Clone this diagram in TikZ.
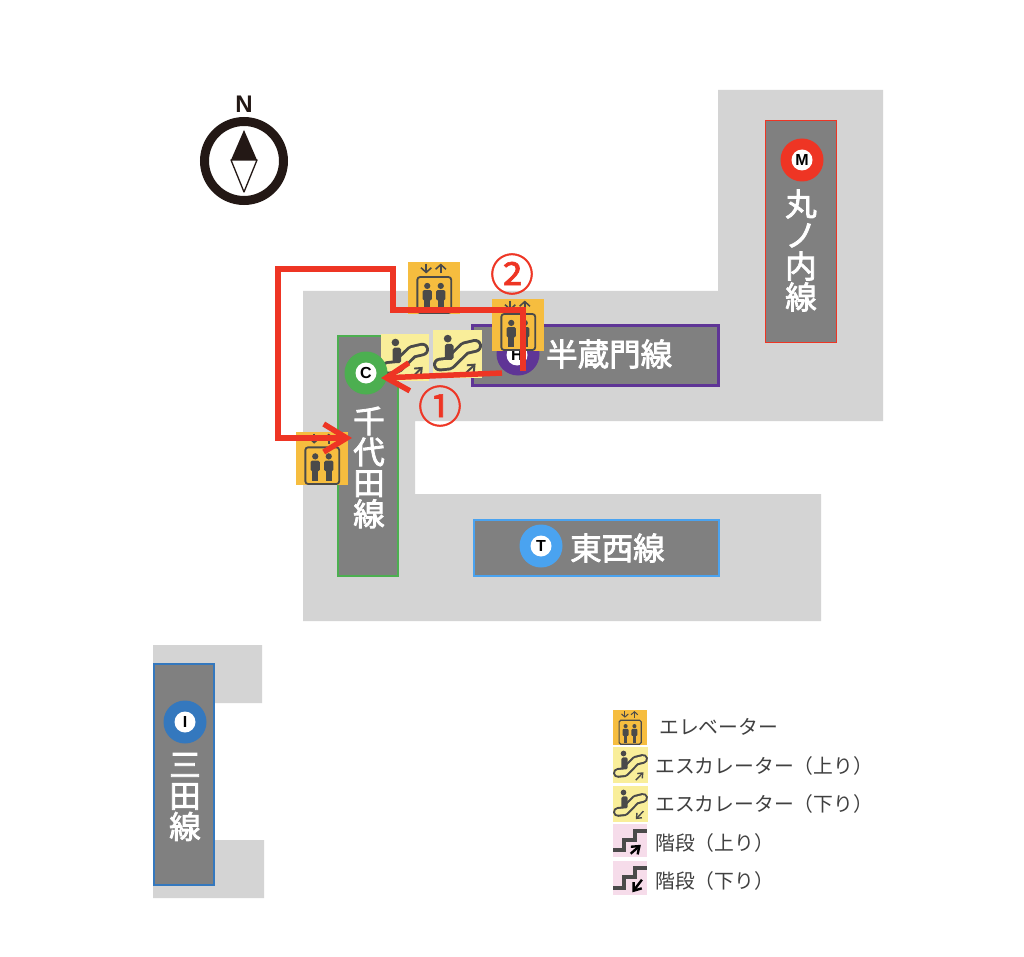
\documentclass[tikz,border=0pt]{standalone}
\usepackage{fontspec}
\usetikzlibrary{arrows.meta}
\setmainfont{Noto Sans CJK JP}
\newfontfamily\latinbold{Liberation Sans}[BoldFont={Liberation Sans Bold}]
\newfontfamily\stfont[FakeBold=2.5]{Noto Sans CJK JP}
\newfontfamily\numfont[FakeBold=1.3]{Noto Sans CJK JP}
\definecolor{floorgrey}{HTML}{D4D4D4}
\definecolor{platgrey}{HTML}{808080}
\definecolor{elevbg}{HTML}{F6BD3F}
\definecolor{escbg}{HTML}{F9EE9A}
\definecolor{stairbg}{HTML}{F6DCEA}
\definecolor{icondark}{HTML}{4A4A4A}
\definecolor{routered}{HTML}{EE3524}
\definecolor{chiyoda}{HTML}{4CAF50}
\definecolor{hanzomon}{HTML}{5F3596}
\definecolor{tozai}{HTML}{4AA3F0}
\definecolor{maru}{HTML}{EE3524}
\definecolor{mita}{HTML}{3478BE}
\definecolor{compassblack}{HTML}{231815}
\tikzset{
  floor/.style={fill=floorgrey,draw=none},
  platform/.style={fill=#1,draw=none,anchor=north west,inner sep=0pt,outer sep=0pt},
  platformface/.style={fill=platgrey,draw=none,inner sep=0pt,outer sep=0pt},
  linering/.style={circle,fill=#1,minimum size=43pt,inner sep=0pt},
  linehole/.style={circle,fill=white,minimum size=21pt,inner sep=0pt,text=black,font=\latinbold\bfseries\fontsize{16}{16}\selectfont},
  stname/.style={text=white,align=center,inner sep=0pt,font=\stfont\fontsize{31.5}{31}\selectfont},
  legendtext/.style={anchor=west,inner sep=0pt,text=black!75,font=\fontsize{19.8}{20}\selectfont},
  route/.style={draw=routered,line width=5.5pt,miter limit=10},
  routetip/.style={-{Straight Barb[length=23pt,width=28pt]}},
  numlabel/.style={text=routered,inner sep=0pt,font=\numfont\fontsize{44}{44}\selectfont},
}
% #1 x, #2 y, #3 width, #4 height
\newcommand{\elevicon}[4]{%
\begin{scope}[shift={(#1,#2)},x=#3pt,y=-#4pt]
\fill[elevbg] (0,0) rectangle (1,1);
\draw[icondark,line width=#3*0.035pt,rounded corners=#3*0.05pt] (.18,.29) rectangle (.83,.98);
\foreach \px in {.37,.63}{
  \fill[icondark] (\px,.46) circle[x radius=.06,y radius=.06];
  \fill[icondark,rounded corners=#3*0.03pt] (\px-.09,.54) rectangle (\px+.09,.74);
  \fill[icondark] (\px-.055,.7) rectangle (\px+.055,.93);
}
\draw[icondark,line width=#3*0.03pt,-{Straight Barb[length=#3*0.09pt,width=#3*0.2pt]}] (.35,.03) -- (.35,.22);
\draw[icondark,line width=#3*0.03pt,-{Straight Barb[length=#3*0.09pt,width=#3*0.2pt]}] (.63,.22) -- (.63,.03);
\end{scope}}
% #5 = 1 up, 0 down
\newcommand{\escicon}[5]{%
\begin{scope}[shift={(#1,#2)},x=#3pt,y=-#4pt]
\fill[escbg] (0,0) rectangle (1,1);
\draw[icondark,line width=#3*0.28pt,line cap=round,line join=round] (.14,.72) -- (.33,.7) -- (.65,.38) -- (.86,.33);
\draw[escbg,line width=#3*0.16pt,line cap=round,line join=round] (.14,.72) -- (.33,.7) -- (.65,.38) -- (.86,.33);
\fill[icondark] (.3,.18) circle[x radius=.08,y radius=.08];
\fill[icondark,rounded corners=#3*0.04pt] (.24,.29) rectangle (.42,.62);
\ifnum#5=1
\draw[icondark,line width=#3*0.04pt,-{Straight Barb[length=#3*0.12pt,width=#3*0.2pt]}] (.65,.92) -- (.87,.7);
\else
\draw[icondark,line width=#3*0.04pt,-{Straight Barb[length=#3*0.12pt,width=#3*0.2pt]}] (.87,.7) -- (.65,.92);
\fi
\end{scope}}
\newcommand{\stairicon}[5]{%
\begin{scope}[shift={(#1,#2)},x=#3pt,y=-#4pt]
\fill[stairbg] (0,0) rectangle (1,1);
\draw[icondark,line width=#3*0.12pt] (0,.8) -- (.33,.8) -- (.33,.48) -- (.65,.48) -- (.65,.2) -- (1,.2);
\ifnum#5=1
\draw[black,line width=#3*0.07pt,-{Straight Barb[length=#3*0.2pt,width=#3*0.3pt]}] (.52,.9) -- (.82,.63);
\else
\draw[black,line width=#3*0.07pt,-{Straight Barb[length=#3*0.2pt,width=#3*0.3pt]}] (.85,.55) -- (.57,.92);
\fi
\end{scope}}
\begin{document}
\begin{tikzpicture}[x=1pt,y=-1pt]
\useasboundingbox (0,0) rectangle (1024,957);
\fill[white] (0,0) rectangle (1024,957);
% floors
\fill[floor] (303,291) -- (718,291) -- (718,90) -- (883,90) -- (883,421) -- (415,421) -- (415,494) -- (821,494) -- (821,621) -- (303,621) -- cycle;
\fill[floor] (153,645) -- (262,645) -- (262,703) -- (200,703) -- (200,840) -- (264,840) -- (264,898) -- (153,898) -- cycle;
% platforms
\node[platform=maru,minimum width=72pt,minimum height=223pt] (marubox) at (765,120) {};
\node[platformface,minimum width=69.4pt,minimum height=220.4pt] (maruface) at (marubox.center) {};
\node[platform=chiyoda,minimum width=62pt,minimum height=242pt] (chibox) at (337,335) {};
\node[platformface,minimum width=58.6pt,minimum height=238.6pt] (chiface) at (chibox.center) {};
\node[platform=tozai,minimum width=247pt,minimum height=58pt] (tozaibox) at (473,519) {};
\node[platformface,minimum width=243.6pt,minimum height=54.6pt] (tozaiface) at (tozaibox.center) {};
\node[platform=mita,minimum width=62pt,minimum height=223pt] (mitabox) at (153,663) {};
\node[platformface,minimum width=58.6pt,minimum height=219.6pt] (mitaface) at (mitabox.center) {};
\node[platform=hanzomon,minimum width=249pt,minimum height=63pt] (hanbox) at (470.5,324) {};
\node[platformface,minimum width=243pt,minimum height=57pt] (hanface) at (hanbox.center) {};
% line badges
\node[linering=maru] (maruring) at (802,160) {};
\node[linehole] (maruhole) at (802,160) {M};
\node[linering=hanzomon] (hanring) at (518,354) {};
\node[linehole] (hanhole) at (517,355) {H};
\node[linering=tozai] (tozairing) at (541,546) {};
\node[linehole] (tozaihole) at (541,546) {T};
\node[linering=mita] (mitaring) at (185,722) {};
\node[linehole] (mitahole) at (185,722) {I};
% station names
\node[stname] (marutext) at (801,250.5) {丸\\ノ\\内\\線};
\node[stname] (chitext) at (369,467.5) {千\\代\\田\\線};
\node[stname] (mitatext) at (185,797) {三\\田\\線};
\node[stname,anchor=west] (hantext) at (546,354) {半蔵門線};
\node[stname,anchor=west] (tozaitext) at (570,548) {東西線};
% map icons
\escicon{381}{334}{48}{47}{1}
\escicon{433}{330}{49}{48}{1}
\node[linering=chiyoda] (chiring) at (366,373) {};
\node[linehole] (chihole) at (366,373) {C};
\elevicon{408}{262}{52}{52}
\elevicon{492}{299}{52}{52}
\elevicon{296}{432}{52}{53}
% compass
\node[circle,draw=compassblack,line width=9pt,minimum size=79pt,inner sep=0pt] (compass) at (244,161) {};
\node[text=compassblack,inner sep=0pt,font=\latinbold\bfseries\fontsize{24}{24}\selectfont] (north) at (244,104) {N};
\coordinate (needletop) at (244,130);
\coordinate (needleleft) at (231,160);
\coordinate (needleright) at (257,160);
\coordinate (needlebot) at (244,192);
\fill[compassblack] (needletop) -- (needleleft) -- (needleright) -- cycle;
\draw[compassblack,line width=1.3pt,line join=round] (needleleft) -- (needlebot) -- (needleright) -- cycle;
% route
\coordinate (r2a) at (523,371);
\coordinate (r2b) at (523,310);
\coordinate (r2c) at (393,310);
\coordinate (r2d) at (393,269);
\coordinate (r2e) at (278,269);
\coordinate (r2f) at (278,438);
\coordinate (r2g) at (352,438);
\coordinate (r1a) at (502,373);
\coordinate (r1b) at (381,378);
\draw[route,routetip] (r2a) -- (r2b) -- (r2c) -- (r2d) -- (r2e) -- (r2f) -- (r2g);
\draw[route,routetip] (r1a) -- (r1b);
\node[numlabel] (num1) at (440,406) {①};
\node[numlabel] (num2) at (512,274) {②};
% legend
\elevicon{613}{710}{34}{35}
\escicon{613}{747}{35}{36}{1}
\escicon{613}{786}{35}{36}{0}
\stairicon{613}{824}{34}{33}{1}
\stairicon{613}{861}{34}{34}{0}
\node[legendtext] (leg1) at (659,727) {エレベーター};
\node[legendtext] (leg2) at (655,766) {エスカレーター（上り）};
\node[legendtext] (leg3) at (655,804) {エスカレーター（下り）};
\node[legendtext] (leg4) at (655,843) {階段（上り）};
\node[legendtext] (leg5) at (655,881) {階段（下り）};
\end{tikzpicture}
\end{document}
